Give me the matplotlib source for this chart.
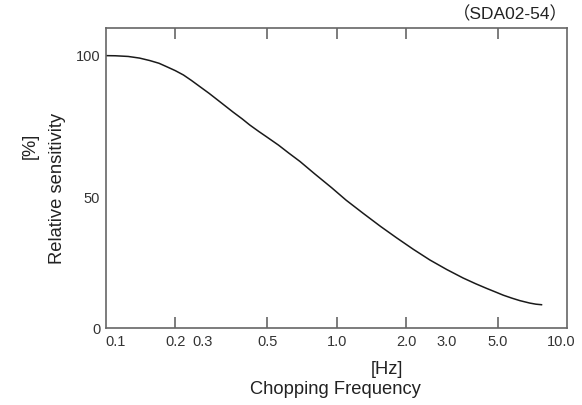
import matplotlib
matplotlib.use("Agg")
import matplotlib.pyplot as plt
import matplotlib.transforms as mtrans

freq = [0.100, 0.110, 0.125, 0.140, 0.155, 0.170, 0.184, 0.200, 0.217, 0.235, 0.256,
        0.280, 0.312, 0.356, 0.390, 0.420, 0.460, 0.498, 0.560, 0.620, 0.694, 0.800,
        0.951, 1.100, 1.303, 1.550, 1.820, 2.150, 2.535, 3.000, 3.530, 4.000, 4.460,
        4.900, 5.270, 5.750, 6.220, 6.870, 7.300, 7.720]
sens = [100.0, 99.95, 99.7, 99.1, 98.2, 97.2, 95.9, 94.5, 92.9, 90.9, 88.6,
        86.2, 83.1, 79.3, 76.8, 74.6, 72.2, 70.2, 67.2, 64.3, 61.2, 56.8,
        51.6, 47.0, 42.2, 37.4, 33.2, 29.0, 25.1, 21.6, 18.5, 16.4, 14.7,
        13.3, 12.2, 11.1, 10.2, 9.3, 8.9, 8.7]

x_tick_marks = [0.2, 0.5, 1.0, 2.0, 5.0]
x_label_vals = [0.1, 0.2, 0.3, 0.5, 1.0, 2.0, 3.0, 5.0, 10.0]
x_label_txt = ["0.1", "0.2", "0.3", "0.5", "1.0", "2.0", "3.0", "5.0", "10.0"]
y_label_vals = [0, 50, 100]
y_label_txt = ["0", "50", "100"]

fam = ["Liberation Sans", "Noto Sans CJK JP", "DejaVu Sans"]
plt.rcParams["font.family"] = fam

fig = plt.figure(figsize=(5.82, 4.05), dpi=100)
ax = fig.add_axes([0.1818, 0.189, 0.7932, 0.741])

ax.plot(freq, sens, color="#1a1a1a", lw=1.1, solid_joinstyle="round")
ax.set_xscale("log")
ax.set_xlim(0.1, 10)
ax.set_ylim(0, 110)

frame_c = "#666666"
for s in ax.spines.values():
    s.set_color(frame_c)
    s.set_linewidth(1.2)

tick_fs = 10.5
ax.xaxis.remove_overlapping_locs = False
ax.xaxis.set_major_locator(matplotlib.ticker.FixedLocator(x_label_vals))
ax.xaxis.set_major_formatter(matplotlib.ticker.FixedFormatter(x_label_txt))
ax.xaxis.set_minor_locator(matplotlib.ticker.FixedLocator(x_tick_marks))
ax.xaxis.set_minor_formatter(matplotlib.ticker.NullFormatter())
ax.tick_params(axis="x", which="major", length=0, pad=4.5, labelsize=tick_fs, labelcolor="#333333")
ax.tick_params(axis="x", which="minor", direction="in", length=8, width=1.2,
               color=frame_c, top=True, bottom=True)

ax.set_yticks(y_label_vals)
ax.set_yticklabels(y_label_txt)
ax.tick_params(axis="y", which="both", length=0, pad=4, labelsize=tick_fs, labelcolor="#333333")
ax.yaxis.set_minor_locator(matplotlib.ticker.NullLocator())

# label alignment tweaks
labels = ax.get_xticklabels()
labels[0].set_ha("left")
labels[-1].set_ha("right")
labels[-1].set_transform(labels[-1].get_transform() + mtrans.ScaledTranslation(8/100, 0, fig.dpi_scale_trans))
labels[2].set_transform(labels[2].get_transform() + mtrans.ScaledTranslation(-13/100, 0, fig.dpi_scale_trans))
ylabels = ax.get_yticklabels()
ylabels[1].set_transform(ylabels[1].get_transform() + mtrans.ScaledTranslation(0, -5/100, fig.dpi_scale_trans))

lab_fs = 13.2
fig.text(30/582, 1 - 146/405, "[%]", rotation=90, ha="center", va="center", fontsize=lab_fs, color="#222222")
fig.text(57/582, 1 - 188/405, "Relative sensitivity", rotation=90, ha="center", va="center", fontsize=lab_fs, color="#222222")
fig.text(387/582, 1 - 370/405, "[Hz]", ha="center", va="center", fontsize=lab_fs, color="#222222")
fig.text(335/582, 1 - 389/405, "Chopping Frequency", ha="center", va="center", fontsize=lab_fs, color="#222222")
fig.text(568/582, 1 - 14/405, "（SDA02-54）", ha="right", va="center", fontsize=12.5, color="#222222")

fig.savefig("out.png", dpi=100)
